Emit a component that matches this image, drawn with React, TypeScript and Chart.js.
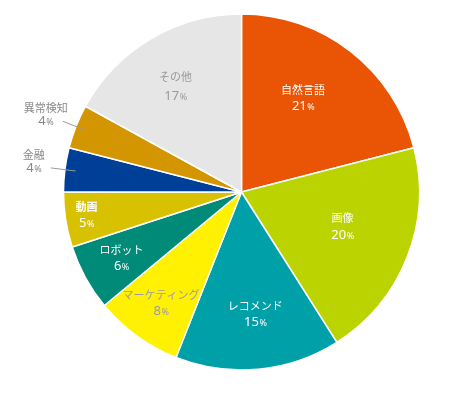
import React, { useEffect, useRef } from "react";
import { Chart, registerables } from "chart.js";

Chart.register(...registerables);

const categories = ["自然言語", "画像", "レコメンド", "マーケティング", "ロボット", "動画", "金融", "異常検知", "その他"];
const values = [21, 20, 15, 8, 6, 5, 4, 4, 17];
const colors = ["#E95504", "#BBD300", "#00A0A9", "#FFF100", "#008B78", "#D8C100", "#003F98", "#D49600", "#E6E6E6"];
const textColors = ["#ffffff", "#ffffff", "#ffffff", "#9a9aa6", "#ffffff", "#ffffff", "#888888", "#888888", "#999999"];
// label placement: radius fraction of outer radius, angle offset (deg), outside with leader line
const labelRadius = [0.63, 0.6, 0.69, 0.77, 0.77, 0.88, 0, 0, 0.7];
const labelAngleOffset = [-4.5, -2.6, -1, 0, 0, 0.6, 0, 0, -1.4];
const outside = [false, false, false, false, false, false, true, true, false];

const labelPlugin = {
  id: "pieLabels",
  afterDatasetsDraw(chart: any) {
    const ctx = chart.ctx;
    const meta = chart.getDatasetMeta(0);
    ctx.save();
    meta.data.forEach((arc: any, i: number) => {
      const { x, y, startAngle, endAngle, outerRadius } = arc.getProps(["x", "y", "startAngle", "endAngle", "outerRadius"], true);
      const mid = (startAngle + endAngle) / 2;
      const name = categories[i];
      const num = String(values[i]);
      let cx: number, cyName: number, cyPct: number;
      if (outside[i]) {
        const x1 = x + Math.cos(mid) * outerRadius * 0.94;
        const y1 = y + Math.sin(mid) * outerRadius * 0.94;
        const x2 = x + Math.cos(mid) * outerRadius * 1.08;
        const y2 = y + Math.sin(mid) * outerRadius * 1.08;
        ctx.strokeStyle = "#999999";
        ctx.lineWidth = 1;
        ctx.beginPath();
        ctx.moveTo(x1, y1);
        ctx.lineTo(x2, y2);
        ctx.stroke();
        cx = x2 - 17;
        cyPct = y2 + 0.5;
        cyName = cyPct - 13.5;
      } else {
        const a = mid + (labelAngleOffset[i] * Math.PI) / 180;
        const r = outerRadius * labelRadius[i];
        cx = x + Math.cos(a) * r;
        const cy = y + Math.sin(a) * r;
        const gap = i === 8 ? 10 : 8.5;
        cyName = cy - gap;
        cyPct = cy + gap;
      }
      ctx.fillStyle = textColors[i];
      ctx.textBaseline = "middle";
      ctx.textAlign = "center";
      ctx.font = (i === 5 ? "bold " : "") + "11px 'Noto Sans CJK JP', sans-serif";
      ctx.fillText(name, cx, cyName);
      // number + small percent
      const numFont = "13px 'Noto Sans', 'Noto Sans CJK JP', sans-serif";
      const pctFont = "9px 'Noto Sans', 'Noto Sans CJK JP', sans-serif";
      ctx.font = numFont;
      const wNum = ctx.measureText(num).width;
      ctx.font = pctFont;
      const wPct = ctx.measureText("%").width;
      const startX = cx - (wNum + wPct) / 2;
      ctx.textAlign = "left";
      ctx.font = numFont;
      ctx.fillText(num, startX, cyPct);
      ctx.font = pctFont;
      ctx.fillText("%", startX + wNum + 0.5, cyPct + 1);
    });
    ctx.restore();
  },
};

export default function App() {
  const ref = useRef<HTMLCanvasElement>(null);
  useEffect(() => {
    const chart = new Chart(ref.current as HTMLCanvasElement, {
      type: "pie",
      data: {
        labels: categories,
        datasets: [
          {
            data: values,
            backgroundColor: colors,
            borderColor: "#ffffff",
            borderWidth: 1.5,
          },
        ],
      },
      options: {
        responsive: false,
        animation: false,
        layout: { padding: { left: 62.75, right: 37.75, top: 13.25, bottom: 24.25 } },
        plugins: {
          legend: { display: false },
          tooltip: { enabled: false },
        },
      },
      plugins: [labelPlugin],
    });
    return () => chart.destroy();
  }, []);
  return (
    <div style={{ position: "absolute", left: 0, top: 0, width: 458, height: 395, background: "#fff" }}>
      <canvas ref={ref} width={458} height={395} />
    </div>
  );
}
